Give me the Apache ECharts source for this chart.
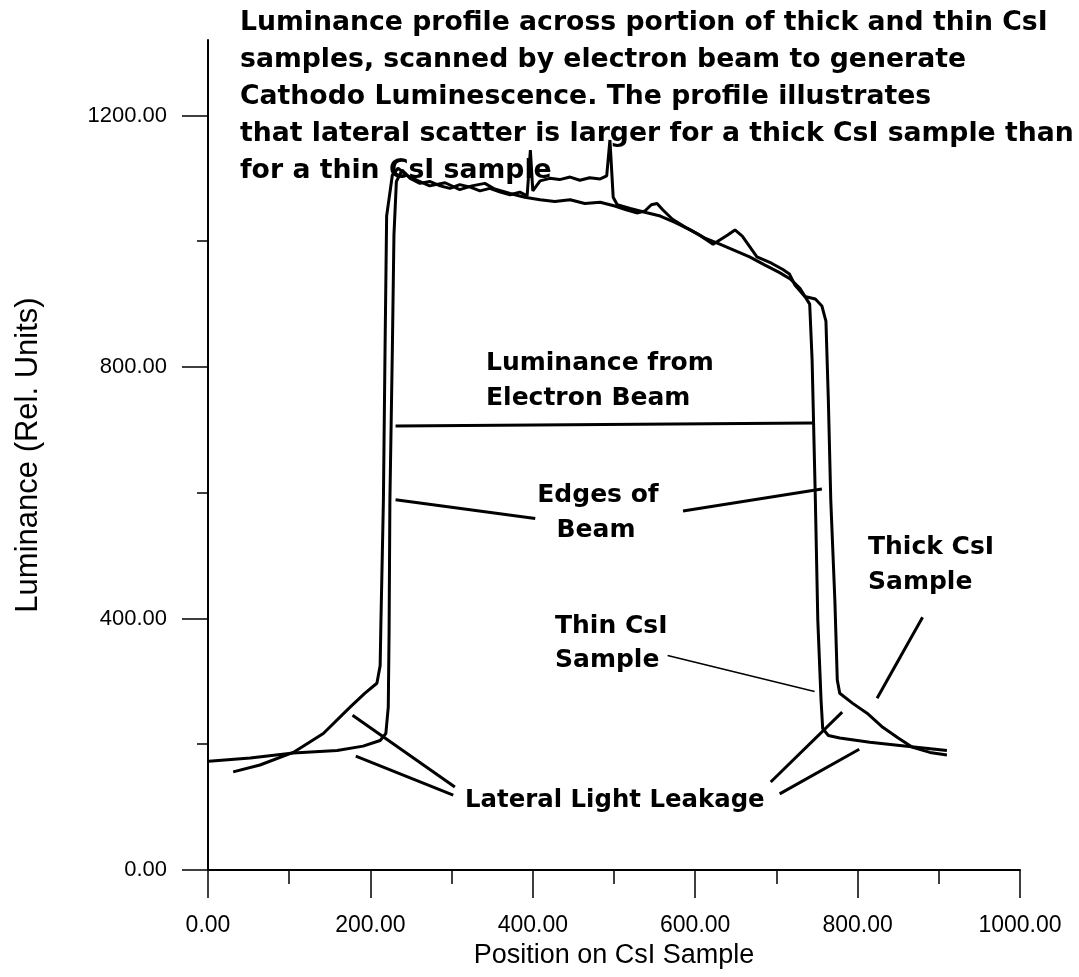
<!DOCTYPE html>
<html>
<head>
<meta charset="utf-8">
<title>Luminance profile</title>
<script src="https://cdn.jsdelivr.net/npm/echarts@6/dist/echarts.min.js"></script>
<style>
  html, body { margin: 0; padding: 0; background: #fff; }
  #myChart { width: 1079px; height: 977px; }
</style>
</head>
<body>
<div id="myChart"></div>
<script>
// position along the sample / luminance
const thickPos = [31, 64, 105, 142, 175, 193, 208, 212, 213, 216, 218, 220, 227,
  234, 246, 259, 273, 292, 310, 325, 341, 353, 372, 390, 409, 427, 446, 464, 483, 501, 515, 528, 538,
  546, 553, 560, 572, 588, 605, 622, 640, 649, 658, 676, 694, 708, 716, 723, 735, 748,
  756, 761, 764, 767, 772, 775, 778, 794, 813, 831, 850, 868, 889, 910]
const thickLum = [156, 167, 187, 217, 259, 281, 297, 325, 397, 587, 825, 1040, 1105,
  1116, 1104, 1096, 1088, 1093, 1082, 1088, 1092, 1083, 1076, 1070, 1066, 1063, 1066, 1060, 1062, 1056, 1050, 1045, 1048,
  1058, 1060, 1050, 1035, 1022, 1010, 995, 1010, 1018, 1008, 975, 965, 955, 948, 930, 912, 908,
  897, 873, 746, 587, 429, 302, 281, 265, 248, 227, 210, 195, 187, 183]

const thinPos = [1, 52, 105, 159, 191, 212, 219, 222, 223, 224, 227, 229, 232,
  239, 249, 261, 273, 286, 298, 310, 323, 335, 347, 360, 372, 384, 393, 397, 400, 409, 421, 433, 446,
  458, 470, 483, 491, 495, 499, 504, 520, 538, 557, 575, 594, 612, 631, 649, 667, 686, 704, 717, 729, 741,
  744, 748, 751, 755, 757, 764, 778, 815, 852, 910]
const thinLum = [173, 178, 186, 190, 197, 206, 217, 259, 376, 587, 825, 1010, 1095,
  1113, 1100, 1092, 1095, 1088, 1084, 1090, 1086, 1080, 1084, 1078, 1074, 1078, 1072, 1145, 1080, 1096, 1100, 1098, 1102,
  1097, 1101, 1099, 1104, 1161, 1070, 1058, 1052, 1046, 1040, 1030, 1018, 1005, 995, 985, 975, 962, 950, 940, 925, 900,
  810, 587, 397, 270, 225, 214, 210, 203, 198, 190]

// pointer lines of the annotations: [x0, y0, x1, y1] in data units
const pointerBeam = [231, 706, 745, 711]
const pointerEdges = [[231, 589, 403, 559], [585, 571, 756, 606]]
const pointerThick = [880, 402, 824, 273]
const pointerThin = [566, 341, 747, 284]
const pointerLeak = [[178, 246, 304, 132], [182, 181, 302, 119], [781, 251, 693, 140], [802, 192, 704, 121]]

const yMajor = [0, 400, 800, 1200]
const yMinor = [200, 600, 1000]

const titleLines = [
  'Luminance profile across portion of thick and thin CsI',
  'samples, scanned by electron beam to generate',
  'Cathodo Luminescence. The profile illustrates',
  'that lateral scatter is larger for a thick CsI sample than',
  'for a thin CsI sample'
]

const zip = (xs, ys) => xs.map((x, i) => [x, ys[i]])
const seg = (s) => [[s[0], s[1]], [s[2], s[3]]]

function pointer(s, w) {
  return {
    type: 'line',
    data: seg(s),
    symbol: 'none',
    silent: true,
    lineStyle: { color: '#000', width: w }
  }
}

function label(text, x, y, align, size) {
  return {
    type: 'text',
    x: x,
    y: y,
    style: {
      text: text,
      font: 'bold ' + (size || 25) + 'px "DejaVu Sans"',
      fill: '#000',
      align: align || 'left',
      verticalAlign: 'middle'
    }
  }
}

const myChart = echarts.init(document.getElementById('myChart'), null, { renderer: 'canvas' })

const series = [
  {
    name: 'Thick CsI',
    type: 'line',
    data: zip(thickPos, thickLum),
    symbol: 'none',
    lineStyle: { color: '#000', width: 3 }
  },
  {
    name: 'Thin CsI',
    type: 'line',
    data: zip(thinPos, thinLum),
    symbol: 'none',
    lineStyle: { color: '#000', width: 3 }
  },
  pointer(pointerBeam, 3),
  pointer(pointerEdges[0], 3),
  pointer(pointerEdges[1], 3),
  pointer(pointerThick, 3),
  pointer(pointerThin, 1.5)
]
pointerLeak.forEach(s => series.push(pointer(s, 3)))

// title block, five bold lines left aligned
const graphic = titleLines.map((t, i) => ({
  type: 'text',
  x: 240,
  y: 23 + i * 37,
  style: { text: t, font: 'bold 26.7px "DejaVu Sans"', fill: '#000', verticalAlign: 'middle' }
}))
graphic.push(
  label('Luminance from', 486, 363),
  label('Electron Beam', 486, 398),
  label('Edges of', 598, 495, 'center'),
  label('Beam', 596, 530, 'center'),
  label('Thick CsI', 868, 547),
  label('Sample', 868, 582),
  label('Thin CsI', 555, 626),
  label('Sample', 555, 660),
  label('Lateral Light Leakage', 465, 801, 'left', 24.4)
)

myChart.setOption({
  animation: false,
  backgroundColor: '#fff',
  grid: { left: 208, right: 59, top: 40, bottom: 107 },
  xAxis: {
    type: 'value',
    min: 0,
    max: 1000,
    interval: 200,
    name: 'Position on CsI Sample',
    nameLocation: 'middle',
    nameGap: 68,
    nameTextStyle: { fontFamily: 'Liberation Sans', fontSize: 27, color: '#000' },
    axisLine: { onZero: false, lineStyle: { color: '#000', width: 2 } },
    axisTick: { length: 28, lineStyle: { color: '#000', width: 1.5 } },
    minorTick: { show: true, splitNumber: 2, length: 14, lineStyle: { color: '#000', width: 1.5 } },
    axisLabel: {
      margin: 44,
      fontFamily: 'Liberation Sans',
      fontSize: 23,
      color: '#000',
      formatter: v => v.toFixed(2)
    },
    splitLine: { show: false }
  },
  yAxis: [
    {
      type: 'value',
      min: 0,
      max: 1320,
      name: 'Luminance (Rel. Units)',
      nameLocation: 'middle',
      nameGap: 164,
      nameTextStyle: { fontFamily: 'Liberation Sans', fontSize: 31, color: '#000' },
      axisLine: { show: true, onZero: false, lineStyle: { color: '#000', width: 2 } },
      axisTick: { show: true, length: 26, customValues: yMajor, lineStyle: { color: '#000', width: 1.5 } },
      axisLabel: {
        margin: 41,
        customValues: yMajor,
        fontFamily: 'Liberation Sans',
        fontSize: 22,
        color: '#000',
        formatter: v => v.toFixed(2)
      },
      splitLine: { show: false }
    },
    {
      // short ticks at the odd hundreds
      type: 'value',
      min: 0,
      max: 1320,
      position: 'left',
      axisLine: { show: false },
      axisTick: { show: true, length: 11, customValues: yMinor, lineStyle: { color: '#000', width: 1.5 } },
      axisLabel: { show: false },
      splitLine: { show: false }
    }
  ],
  graphic: graphic,
  series: series
})
</script>
</body>
</html>
